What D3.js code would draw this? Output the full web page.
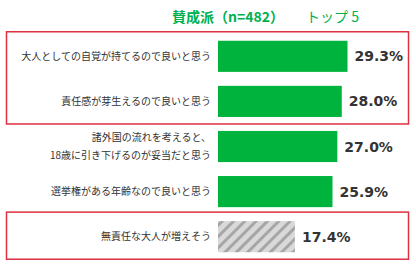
<!DOCTYPE html>
<html>
<head>
<meta charset="utf-8">
<script src="https://cdn.jsdelivr.net/npm/d3@7"></script>
<style>
	body { margin: 0; background: #fff; }
	svg { font-family: "Noto Sans CJK JP", sans-serif; }
</style>
</head>
<body>
<script>
(function() {

	// data
	var labels = [
		["大人としての自覚が持てるので良いと思う"],
		["責任感が芽生えるので良いと思う"],
		["諸外国の流れを考えると、", "18歳に引き下げるのが妥当だと思う"],
		["選挙権がある年齢なので良いと思う"],
		["無責任な大人が増えそう"]
	];
	var values = [29.3, 28.0, 27.0, 25.9, 17.4];
	var kinds = ["pro", "pro", "pro", "pro", "con"];
	// rows that get a red frame
	var framed = [[0, 1], [4, 4]];

	var width = 416, height = 273;

	var svg = d3.select("body")
		.append("svg")
		.attr("width", width)
		.attr("height", height);

	// hatched fill for the gray bar
	var defs = svg.append("defs");
	var pat = defs.append("pattern")
		.attr("id", "hatch")
		.attr("patternUnits", "userSpaceOnUse")
		.attr("width", 8)
		.attr("height", 8)
		.attr("patternTransform", "rotate(45)");
	pat.append("rect")
		.attr("width", 8).attr("height", 8)
		.attr("fill", "#d9d9d9");
	pat.append("rect")
		.attr("width", 3).attr("height", 8)
		.attr("fill", "#a6a6a6");

	// scales
	var x = d3.scaleLinear()
		.domain([0, 10])
		.range([218, 262.2]);

	var y = d3.scaleBand()
		.domain(d3.range(values.length))
		.range([34, 259])
		.paddingInner(0.31)
		.paddingOuter(0.15);

	// title
	var title = svg.append("text")
		.attr("x", 172)
		.attr("y", 22)
		.attr("fill", "#00b050")
		.style("font-size", "14px");
	title.append("tspan")
		.style("font-weight", "bold")
		.text("賛成派（n=482）");
	title.append("tspan")
		.attr("x", 306)
		.text("トップ 5");

	// red frames
	svg.selectAll(".frame")
		.data(framed)
		.enter()
		.append("rect")
		.attr("class", "frame")
		.attr("x", 6.5)
		.attr("width", 402)
		.attr("y", function(d) { return y(d[0]) - 9; })
		.attr("height", function(d) { return y(d[1]) + y.bandwidth() - y(d[0]) + 16; })
		.attr("fill", "none")
		.attr("stroke", "#e03040")
		.attr("stroke-width", 1.5);

	// bars
	svg.selectAll(".bar")
		.data(values)
		.enter()
		.append("rect")
		.attr("class", "bar")
		.attr("x", x(0))
		.attr("y", function(d, i) { return y(i); })
		.attr("width", function(d) { return x(d) - x(0); })
		.attr("height", y.bandwidth())
		.attr("fill", function(d, i) { return kinds[i] == "pro" ? "#00b33c" : "url(#hatch)"; });

	// value labels
	svg.selectAll(".val")
		.data(values)
		.enter()
		.append("text")
		.attr("class", "val")
		.attr("x", function(d) { return x(d) + 7; })
		.attr("y", function(d, i) { return y(i) + y.bandwidth() / 2; })
		.attr("dy", "0.36em")
		.attr("fill", "#333")
		.style("font-size", "14px")
		.style("font-weight", "bold")
		.style("font-family", "Verdana, 'DejaVu Sans', sans-serif")
		.text(function(d) { return d.toFixed(1) + "%"; });

	// category labels
	var cat = svg.selectAll(".cat")
		.data(labels)
		.enter()
		.append("text")
		.attr("class", "cat")
		.attr("text-anchor", "end")
		.attr("fill", "#333")
		.style("font-size", "10px")
		.attr("y", function(d, i) { return y(i) + y.bandwidth() / 2; });

	cat.selectAll("tspan")
		.data(function(d) {
			return d.map(function(t, j) { return { t: t, j: j, n: d.length }; });
		})
		.enter()
		.append("tspan")
		.attr("x", 211)
		.attr("dy", function(d) {
			if (d.j == 0) return (0.36 - (d.n - 1) * 0.9) + "em";
			return "1.8em";
		})
		.text(function(d) { return d.t; });

})();
</script>
</body>
</html>
